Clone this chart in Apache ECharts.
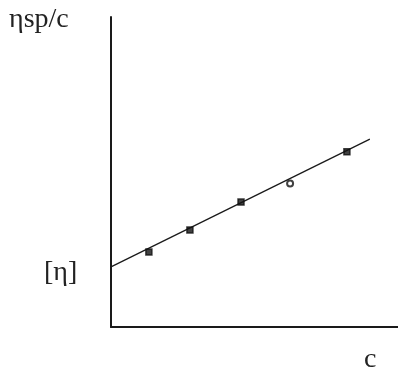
<!DOCTYPE html>
<html>
<head>
<meta charset="utf-8">
<style>
  html, body { margin: 0; padding: 0; background: #fff; }
  #chart { width: 398px; height: 371px; }
</style>
<script src="https://cdn.jsdelivr.net/npm/echarts@6/dist/echarts.min.js"></script>
</head>
<body>
<div id="chart"></div>
<script>
// Measured concentrations and reduced viscosity values
const concentration = [1.32, 2.75, 4.53, 6.24, 8.22];
const reducedViscosity = [2.42, 3.13, 4.03, 4.63, 5.65];
// Marker shape for each measurement (one reading drawn as an open circle)
const pointSymbol = ['rect', 'rect', 'rect', 'emptyCircle', 'rect'];

// Straight-line fit, extrapolated back to c = 0 (intercept = [η])
const fitC = [0, 9.02];
const fitValue = [1.94, 6.06];

const yAxisTitle = 'ηsp/c';
const interceptLabel = '[η]';
const xAxisTitle = 'c';

const chart = echarts.init(document.getElementById('chart'), null, { renderer: 'canvas' });

const serif = '"Liberation Serif", "DejaVu Serif", serif';

chart.setOption({
  animation: false,
  backgroundColor: '#ffffff',
  grid: { left: 111, top: 17, right: 0, bottom: 44 },
  xAxis: {
    type: 'value',
    min: 0,
    max: 10,
    axisLine: { show: true, onZero: false, lineStyle: { color: '#1a1a1a', width: 2 } },
    axisTick: { show: false },
    axisLabel: { show: false },
    splitLine: { show: false }
  },
  yAxis: {
    type: 'value',
    min: 0,
    max: 10,
    axisLine: { show: true, onZero: false, lineStyle: { color: '#1a1a1a', width: 2 } },
    axisTick: { show: false },
    axisLabel: { show: false },
    splitLine: { show: false }
  },
  series: [
    {
      type: 'line',
      data: fitC.map((c, i) => [c, fitValue[i]]),
      symbol: 'none',
      lineStyle: { color: '#1a1a1a', width: 1.3 },
      z: 2
    },
    {
      type: 'scatter',
      data: concentration.map((c, i) => ({
        value: [c, reducedViscosity[i]],
        symbol: pointSymbol[i],
        symbolSize: pointSymbol[i] === 'rect' ? 6 : 6
      })),
      itemStyle: { color: '#111', borderColor: '#111', borderWidth: 1.5 },
      z: 3
    }
  ],
  graphic: [
    {
      type: 'text',
      left: 9,
      top: 6,
      style: { text: yAxisTitle, font: '28px ' + serif, fill: '#222' }
    },
    {
      type: 'text',
      left: 44,
      top: 259,
      style: { text: interceptLabel, font: '28px ' + serif, fill: '#222' }
    },
    {
      type: 'text',
      left: 364,
      top: 346,
      style: { text: xAxisTitle, font: '28px ' + serif, fill: '#222' }
    }
  ]
});
</script>
</body>
</html>
